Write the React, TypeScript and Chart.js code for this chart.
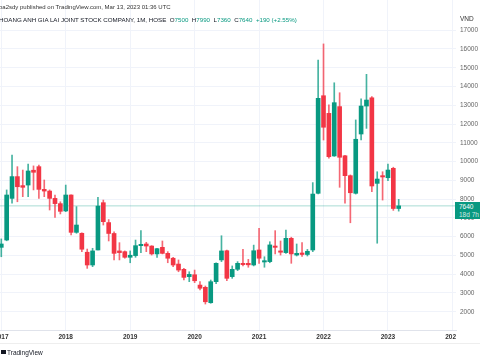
import React, { useEffect, useRef } from "react";
import { Chart, registerables } from "chart.js";
Chart.register(...registerables);

// Monthly candles, Jan 2017 .. Mar 2023
const months = [
  "2017-01","2017-02","2017-03","2017-04","2017-05","2017-06","2017-07","2017-08","2017-09","2017-10","2017-11","2017-12",
  "2018-01","2018-02","2018-03","2018-04","2018-05","2018-06","2018-07","2018-08","2018-09","2018-10","2018-11","2018-12",
  "2019-01","2019-02","2019-03","2019-04","2019-05","2019-06","2019-07","2019-08","2019-09","2019-10","2019-11","2019-12",
  "2020-01","2020-02","2020-03","2020-04","2020-05","2020-06","2020-07","2020-08","2020-09","2020-10","2020-11","2020-12",
  "2021-01","2021-02","2021-03","2021-04","2021-05","2021-06","2021-07","2021-08","2021-09","2021-10","2021-11","2021-12",
  "2022-01","2022-02","2022-03","2022-04","2022-05","2022-06","2022-07","2022-08","2022-09","2022-10","2022-11","2022-12",
  "2023-01","2023-02","2023-03",
];
const opens = [
  5430, 5820, 8040, 9200, 8720, 8750, 9540, 9730, 8520, 8430, 8040, 7760,
  7370, 8220, 6230, 6180, 5170, 4490, 5290, 7810, 6750, 6170, 5240, 5200,
  4900, 4990, 5520, 5610, 5500, 5080, 5430, 5110, 4850, 4540, 4260, 3870,
  3970, 3420, 3300, 2480, 3600, 4760, 5250, 3870, 4260, 4580, 4580, 4490,
  5290, 4650, 4670, 5500, 5240, 5150, 5910, 5020, 5130, 5050, 5290, 8310,
  13510, 12570, 10300, 12930, 10310, 9250, 8310, 11470, 12960, 13400, 8840, 9250,
  9140, 9640, 7500,
];
const highs = [
  5880, 8490, 10350, 9730, 9550, 9870, 9770, 9820, 9020, 8490, 8220, 7860,
  8750, 8230, 7600, 6210, 5340, 5380, 8100, 7950, 6910, 6260, 5680, 5240,
  5240, 5820, 6320, 5700, 5520, 5380, 5770, 5200, 4900, 4760, 4310, 4130,
  4220, 3600, 3370, 3690, 4600, 6050, 5290, 4440, 4670, 5330, 4790, 5550,
  6450, 4930, 5730, 6320, 5770, 6350, 5970, 5610, 5690, 5320, 8880, 15410,
  16270, 13020, 14200, 13670, 10330, 9290, 12220, 13340, 14650, 13460, 9460, 9460,
  9870, 9700, 7990,
];
const lows = [
  4930, 5780, 7780, 7860, 8130, 8130, 8490, 8040, 8130, 7420, 7030, 7210,
  7330, 6090, 6180, 5200, 4310, 4400, 5290, 6620, 5770, 4760, 4760, 4850,
  4610, 4900, 5150, 5200, 5020, 4900, 5080, 4610, 4400, 4130, 3690, 3600,
  3550, 3160, 2410, 2450, 3500, 4670, 3650, 3780, 4190, 4440, 4370, 4440,
  4580, 4370, 4610, 5080, 5020, 5110, 4580, 4970, 4950, 4970, 5200, 8280,
  11150, 10180, 10280, 8630, 7780, 6740, 8270, 11150, 11770, 8400, 5650, 7950,
  8980, 7400, 7360,
];
const closes = [
  5610, 8220, 9200, 8660, 8630, 9500, 9430, 8520, 8430, 8040, 7760, 7350,
  8220, 6230, 6620, 5330, 4490, 5240, 7630, 6800, 6170, 5110, 5150, 4900,
  5010, 5520, 5590, 5500, 5080, 5360, 5110, 4850, 4490, 4220, 3830, 3990,
  3650, 3250, 2530, 3600, 4580, 5240, 3780, 4260, 4580, 4510, 4500, 5250,
  4850, 4720, 5560, 5430, 5170, 5910, 5080, 5110, 5050, 5220, 8270, 13370,
  11830, 10260, 13140, 10230, 9250, 8340, 11190, 12960, 13280, 8700, 9070, 9180,
  9550, 7500, 7640,
];
const yearLabels = ["2017", "2018", "2019", "2020", "2021", "2022", "2023", "2024"];
const priceTicks = [2000, 3000, 4000, 5000, 6000, 7000, 8000, 9000, 10000, 11000, 12000, 13000, 14000, 15000, 16000, 17000];

const X_MIN = -0.24;
const X_MAX = 84.67;
const Y_MIN = 1026;
const Y_MAX = 18611;

const GREEN = "#089981";
const RED = "#f23645";
const FONT = "'Liberation Sans', Arial, Helvetica, sans-serif";

export default function App() {
  const ref = useRef<HTMLCanvasElement | null>(null);

  useEffect(() => {
    const canvas = ref.current;
    if (!canvas) return;
    const isUp = (i: number) => closes[i] >= opens[i];
    const bodyColors = months.map((_, i) => (isUp(i) ? GREEN : RED));
    const wickColors = months.map((_, i) => (isUp(i) ? "rgba(8,153,129,0.75)" : "rgba(242,54,69,0.75)"));
    const last = closes[closes.length - 1];

    const coverPlugin = {
      id: "coverRight",
      afterDatasetsDraw(chart: any) {
        const { ctx, chartArea } = chart;
        ctx.save();
        ctx.fillStyle = "#ffffff";
        ctx.fillRect(chartArea.right, chartArea.bottom + 1, chart.width - chartArea.right, chart.height - chartArea.bottom);
        ctx.restore();
      },
    };

    const chart = new Chart(canvas, {
      type: "bar",
      data: {
        datasets: [
          {
            type: "bar",
            data: months.map((_, i) => ({ x: i, y: [opens[i], closes[i]] })) as any,
            backgroundColor: bodyColors,
            borderWidth: 0,
            barThickness: 4,
            minBarLength: 1,
            grouped: false,
          } as any,
          {
            type: "bar",
            data: months.map((_, i) => ({ x: i, y: [lows[i], highs[i]] })) as any,
            backgroundColor: wickColors,
            borderWidth: 0,
            barThickness: 1,
            grouped: false,
          } as any,
          {
            type: "line",
            data: [
              { x: X_MIN, y: last },
              { x: X_MAX, y: last },
            ],
            borderColor: "rgba(8,153,129,0.35)",
            borderWidth: 1,
            pointRadius: 0,
          } as any,
        ],
      },
      options: {
        responsive: false,
        animation: false,
        events: [],
        layout: { padding: { left: 0, right: 0, top: 0, bottom: 17 } },
        plugins: { legend: { display: false }, tooltip: { enabled: false }, title: { display: false } },
        scales: {
          x: {
            type: "linear",
            min: X_MIN,
            max: X_MAX,
            offset: false,
            afterBuildTicks: (s: any) => {
              s.ticks = yearLabels.map((_, k) => ({ value: k * 12 }));
            },
            afterFit: (s: any) => {
              s.height = 13;
              s.paddingLeft = 0;
              s.paddingRight = 0;
            },
            grid: { color: "#f0f3fa", drawTicks: false, offset: false },
            border: { display: true, color: "#e0e3eb" },
            ticks: {
              autoSkip: false,
              maxRotation: 0,
              padding: 3,
              color: "#333333",
              font: { family: FONT, size: 6.5, weight: "bold" },
              callback: (v: any) => yearLabels[Math.round(Number(v) / 12)] ?? "",
            },
          },
          y: {
            type: "linear",
            position: "right",
            min: Y_MIN,
            max: Y_MAX,
            beginAtZero: false,
            afterBuildTicks: (s: any) => {
              s.ticks = priceTicks.map((v) => ({ value: v }));
            },
            afterFit: (s: any) => {
              s.width = 24;
              s.paddingTop = 0;
              s.paddingBottom = 0;
            },
            grid: { color: "#f0f3fa", drawTicks: false },
            border: { display: false },
            ticks: {
              z: 1,
              padding: 4,
              color: "#666666",
              font: { family: FONT, size: 6.5 },
              callback: (v: any) => String(v),
            },
          },
        },
      } as any,
      plugins: [coverPlugin],
    });
    return () => chart.destroy();
  }, []);

  const base: React.CSSProperties = { position: "absolute", fontFamily: FONT, whiteSpace: "nowrap" };

  return (
    <div style={{ position: "fixed", left: 0, top: 0, width: 480, height: 360, background: "#fff", overflow: "hidden" }}>
      <canvas ref={ref} width={480} height={360} style={{ position: "absolute", left: 0, top: 0, width: 480, height: 360 }} />
      <div style={{ ...base, left: -1, top: 3, fontSize: 6, lineHeight: "8px", color: "#333" }}>
        ba2sdy published on TradingView.com, Mar 13, 2023 01:36 UTC
      </div>
      <div style={{ ...base, left: -1, top: 16, fontSize: 6.2, lineHeight: "8px", color: "#131722" }}>
        HOANG ANH GIA LAI JOINT STOCK COMPANY, 1M, HOSE{"\u00a0\u00a0"}O<span style={{ color: GREEN }}>7500</span>
        {"\u00a0\u00a0"}H<span style={{ color: GREEN }}>7990</span>
        {"\u00a0\u00a0"}L<span style={{ color: GREEN }}>7360</span>
        {"\u00a0\u00a0"}C<span style={{ color: GREEN }}>7640</span>
        {"\u00a0\u00a0"}<span style={{ color: GREEN }}>+190 (+2.55%)</span>
      </div>
      <div style={{ ...base, left: 460, top: 15, fontSize: 6.5, lineHeight: "8px", color: "#333" }}>VND</div>
      <div style={{ position: "absolute", left: 455, top: 202, width: 25, height: 17, background: GREEN }}>
        <div style={{ ...base, left: 4, top: 1, fontSize: 6.5, lineHeight: "7px", color: "#fff" }}>7640</div>
        <div style={{ ...base, left: 4, top: 9, fontSize: 6.5, lineHeight: "7px", color: "rgba(255,255,255,0.8)" }}>18d 7h</div>
      </div>
      <div style={{ position: "absolute", left: 0, top: 343, width: 480, height: 1, background: "#eeeeee" }} />
      <div style={{ position: "absolute", left: 1, top: 350, width: 5, height: 4, background: "#131722" }} />
      <div style={{ ...base, left: 7, top: 348, fontSize: 6.5, lineHeight: "9px", color: "#131722" }}>TradingView</div>
    </div>
  );
}
